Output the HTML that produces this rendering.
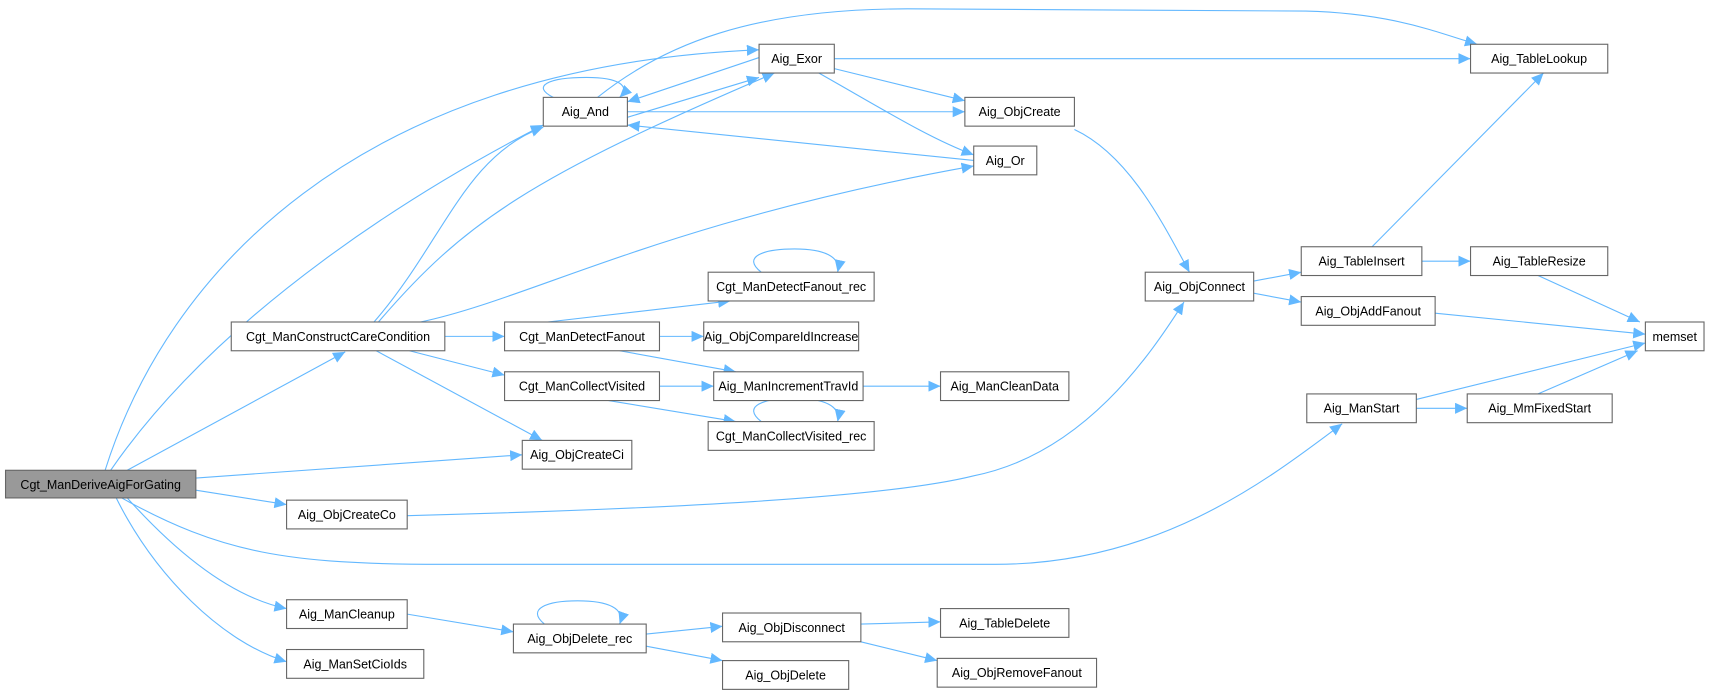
<!DOCTYPE html>
<html><head><meta charset="utf-8"><style>
html,body{margin:0;padding:0;background:#fff;}
svg{display:block;}
text{font-family:"Liberation Sans",Arial,sans-serif;font-size:11.3px;fill:#000;}
.b{fill:#fff;stroke:#666;stroke-width:1;}
.e{fill:none;stroke:#63b8ff;stroke-width:1;marker-end:url(#a);}
</style></head><body>
<svg width="1735" height="696" viewBox="0 0 1568 629" preserveAspectRatio="none" xmlns="http://www.w3.org/2000/svg">
<defs><marker id="a" markerUnits="userSpaceOnUse" markerWidth="12" markerHeight="10" refX="11" refY="5" orient="auto"><path d="M0,0 L11,5 L0,10 Z" fill="#63b8ff"/></marker></defs>
<g>
<path class="e" d="M95,425 C150,250 320,60 686,45"/>
<path class="e" d="M100,425 C200,280 380,170 491,113"/>
<path class="e" d="M115,425 L312,318"/>
<path class="e" d="M177,432 L472,411"/>
<path class="e" d="M177,443 L259,456"/>
<path class="e" d="M110,450 C200,500 260,510 400,510 L900,510 C1050,510 1150,430 1213,383"/>
<path class="e" d="M115,450 C160,500 210,540 259,550"/>
<path class="e" d="M105,450 C140,520 200,580 259,598"/>
<path class="e" d="M338,291 C400,220 420,140 491,115"/>
<path class="e" d="M342,291 C420,200 480,160 700,66"/>
<path class="e" d="M380,291 C480,270 600,200 880,150"/>
<path class="e" d="M402,304 L456,304"/>
<path class="e" d="M370,317 L456,339"/>
<path class="e" d="M340,317 L490,398"/>
<path class="e" d="M500,88 C480,78 495,70 530,70 C560,70 570,78 560,88"/>
<path class="e" d="M567,106 L686,70"/>
<path class="e" d="M686,52 L567,92"/>
<path class="e" d="M540,88 C600,40 680,8 820,8 L1180,10 C1260,12 1300,30 1335,40"/>
<path class="e" d="M567,101 L872,101"/>
<path class="e" d="M880,145 L567,113"/>
<path class="e" d="M754,62 L872,91"/>
<path class="e" d="M740,66 C800,100 840,125 880,140"/>
<path class="e" d="M754,53 L1329,53"/>
<path class="e" d="M971,117 C1020,140 1050,200 1075,246"/>
<path class="e" d="M368,466 C600,460 800,450 880,430 C980,410 1040,320 1070,273"/>
<path class="e" d="M1133,254 L1176,246"/>
<path class="e" d="M1133,265 L1176,273"/>
<path class="e" d="M1240,223 L1395,66"/>
<path class="e" d="M1285,236 L1329,236"/>
<path class="e" d="M1390,249 L1482,291"/>
<path class="e" d="M1297,283 L1487,302"/>
<path class="e" d="M1280,361 L1487,310"/>
<path class="e" d="M1280,369 L1326,369"/>
<path class="e" d="M1390,356 L1480,317"/>
<path class="e" d="M495,291 L660,272"/>
<path class="e" d="M596,304 L636,304"/>
<path class="e" d="M560,317 L665,336"/>
<path class="e" d="M688,246 C670,232 690,225 718,225 C745,225 760,232 757,246"/>
<path class="e" d="M596,349 L645,349"/>
<path class="e" d="M550,362 L665,381"/>
<path class="e" d="M780,349 L850,349"/>
<path class="e" d="M688,381 C670,367 690,360 718,360 C745,360 760,367 757,381"/>
<path class="e" d="M368,555 L464,571"/>
<path class="e" d="M492,564 C475,550 495,543 522,543 C550,543 565,550 560,564"/>
<path class="e" d="M584,573 L653,566"/>
<path class="e" d="M584,584 L653,597"/>
<path class="e" d="M778,564 L850,562"/>
<path class="e" d="M778,580 L847,597"/>
</g>
<g>
<rect x="5" y="425" width="172" height="25" fill="#999" stroke="#666"/><text x="91" y="442" text-anchor="middle">Cgt_ManDeriveAigForGating</text>
<rect class="b" x="209" y="291" width="193" height="26"/><text x="305.5" y="308" text-anchor="middle">Cgt_ManConstructCareCondition</text>
<rect class="b" x="491" y="88" width="76" height="26"/><text x="529" y="105" text-anchor="middle">Aig_And</text>
<rect class="b" x="686" y="40" width="68" height="26"/><text x="720" y="57" text-anchor="middle">Aig_Exor</text>
<rect class="b" x="872" y="88" width="99" height="26"/><text x="921.5" y="105" text-anchor="middle">Aig_ObjCreate</text>
<rect class="b" x="880" y="132" width="57" height="26"/><text x="908.5" y="149" text-anchor="middle">Aig_Or</text>
<rect class="b" x="1329" y="40" width="124" height="26"/><text x="1391" y="57" text-anchor="middle">Aig_TableLookup</text>
<rect class="b" x="640" y="246" width="150" height="26"/><text x="715" y="263" text-anchor="middle">Cgt_ManDetectFanout_rec</text>
<rect class="b" x="456" y="291" width="140" height="26"/><text x="526" y="308" text-anchor="middle">Cgt_ManDetectFanout</text>
<rect class="b" x="636" y="291" width="140" height="26"/><text x="706" y="308" text-anchor="middle">Aig_ObjCompareIdIncrease</text>
<rect class="b" x="456" y="336" width="140" height="26"/><text x="526" y="353" text-anchor="middle">Cgt_ManCollectVisited</text>
<rect class="b" x="645" y="336" width="135" height="26"/><text x="712.5" y="353" text-anchor="middle">Aig_ManIncrementTravId</text>
<rect class="b" x="850" y="336" width="116" height="26"/><text x="908" y="353" text-anchor="middle">Aig_ManCleanData</text>
<rect class="b" x="640" y="381" width="150" height="26"/><text x="715" y="398" text-anchor="middle">Cgt_ManCollectVisited_rec</text>
<rect class="b" x="472" y="398" width="99" height="26"/><text x="521.5" y="415" text-anchor="middle">Aig_ObjCreateCi</text>
<rect class="b" x="259" y="452" width="109" height="26"/><text x="313.5" y="469" text-anchor="middle">Aig_ObjCreateCo</text>
<rect class="b" x="1035" y="246" width="98" height="26"/><text x="1084" y="263" text-anchor="middle">Aig_ObjConnect</text>
<rect class="b" x="1176" y="223" width="109" height="26"/><text x="1230.5" y="240" text-anchor="middle">Aig_TableInsert</text>
<rect class="b" x="1329" y="223" width="124" height="26"/><text x="1391" y="240" text-anchor="middle">Aig_TableResize</text>
<rect class="b" x="1176" y="268" width="121" height="26"/><text x="1236.5" y="285" text-anchor="middle">Aig_ObjAddFanout</text>
<rect class="b" x="1487" y="291" width="53" height="26"/><text x="1513.5" y="308" text-anchor="middle">memset</text>
<rect class="b" x="1181" y="356" width="99" height="26"/><text x="1230.5" y="373" text-anchor="middle">Aig_ManStart</text>
<rect class="b" x="1326" y="356" width="131" height="26"/><text x="1391.5" y="373" text-anchor="middle">Aig_MmFixedStart</text>
<rect class="b" x="259" y="542" width="109" height="26"/><text x="313.5" y="559" text-anchor="middle">Aig_ManCleanup</text>
<rect class="b" x="259" y="587" width="124" height="26"/><text x="321" y="604" text-anchor="middle">Aig_ManSetCioIds</text>
<rect class="b" x="464" y="564" width="120" height="26"/><text x="524" y="581" text-anchor="middle">Aig_ObjDelete_rec</text>
<rect class="b" x="653" y="554" width="125" height="26"/><text x="715.5" y="571" text-anchor="middle">Aig_ObjDisconnect</text>
<rect class="b" x="653" y="597" width="114" height="26"/><text x="710" y="614" text-anchor="middle">Aig_ObjDelete</text>
<rect class="b" x="850" y="550" width="116" height="26"/><text x="908" y="567" text-anchor="middle">Aig_TableDelete</text>
<rect class="b" x="847" y="595" width="144" height="26"/><text x="919" y="612" text-anchor="middle">Aig_ObjRemoveFanout</text>
</g>
</svg>
</body></html>
